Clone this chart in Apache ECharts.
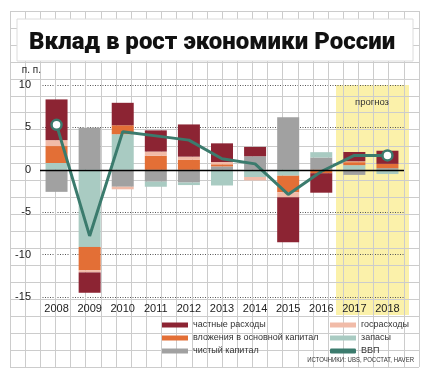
<!DOCTYPE html>
<html><head><meta charset="utf-8">
<script src="https://cdn.jsdelivr.net/npm/echarts@6/dist/echarts.min.js"></script>
<style>html,body{margin:0;padding:0;background:#fff}#c{width:431px;height:380px}</style>
</head><body><div id="c"></div>
<script>
const years = ['2008','2009','2010','2011','2012','2013','2014','2015','2016','2017','2018'];
const yTicks = [-15, -10, -5, 0, 5, 10];
const netCapital   = [-2.6, 4.95, -2.0, -1.4, -1.5, 0.4, 1.6, 6.2, 1.45, -0.6, 0.2];   // чистый капитал
const inventories  = [0.8, -9.1, 4.2, -0.6, -0.3, -1.85, -0.85, -0.7, 0.63, 0.55, -0.5]; // запасы
const fixedInvest  = [2.0, -2.75, 1.05, 1.65, 1.2, 0.25, 0, -1.95, -0.4, 0.35, 0.5];     // вложения в основной капитал
const govSpending  = [0.7, -0.25, -0.3, 0.5, 0.35, 0.27, -0.4, -0.6, 0, 0.1, 0];         // госрасходы
const privSpending = [4.8, -2.4, 2.65, 2.5, 3.8, 2.2, 1.1, -5.3, -2.3, 1.1, 1.55];       // частные расходы
const gdp          = [5.3, -7.8, 4.5, 4.0, 3.5, 1.3, 0.7, -2.9, -0.2, 1.7, 1.7];         // ВВП

const C = {red:'#8c2433', orange:'#e36f36', gray:'#a1a1a1', pink:'#f1bba8', teal:'#a9cbc2', line:'#3b7b6d'};
const chart = echarts.init(document.getElementById('c'), null, {renderer:'canvas'});
const FONT = 'Liberation Sans, Arial, sans-serif';

function barSeries(name, data, color, extra) {
  return Object.assign({
    name, type:'bar', stack:'total', data, barWidth:22,
    xAxisIndex:0, yAxisIndex:0,
    itemStyle:{color}, emphasis:{disabled:true}
  }, extra || {});
}

const last = gdp.length - 1;
const gdpData = gdp.map((v,i) => (i === 0 || i === last)
  ? {value:v, symbol:'circle', symbolSize:10, itemStyle:{color:'#fff', borderColor:C.line, borderWidth:2.5}}
  : {value:v, symbol:'none'});

chart.setOption({
  animation:false,
  backgroundColor:'#fff',
  title:{
    text:'Вклад в рост экономики России', left:24, top:26,
    textStyle:{fontFamily:'Roboto, sans-serif', fontWeight:900, fontSize:24, color:'#111'}
  },
  graphic:[
    {type:'rect', z:-10, shape:{x:336, y:85, width:73, height:230}, style:{fill:'#fbf1aa'}},
    {type:'rect', z:1, shape:{x:17, y:19, width:396, height:42}, style:{fill:'#fff', stroke:'#dcdcdc', lineWidth:1}},
    {type:'text', z:5, x:372, y:102, style:{text:'прогноз', align:'center', verticalAlign:'middle', font:'9.5px '+FONT, fill:'#333'}},
    {type:'text', z:5, x:414, y:360, scaleX:0.86, style:{text:'ИСТОЧНИКИ: UBS, РОССТАТ, HAVER', align:'right', verticalAlign:'middle', font:'7px '+FONT, fill:'#333'}}
  ],
  grid:[
    {left:40, right:27, top:85, bottom:83},
    {left:10, top:11, width:409, height:356, z:-5}
  ],
  xAxis:[
    {type:'category', gridIndex:0, data:years, axisLine:{show:false, onZero:false}, axisTick:{show:false},
     axisLabel:{margin:6, fontSize:11, color:'#222', fontFamily:FONT}},
    {type:'value', gridIndex:1, min:0, max:27, interval:1, axisLabel:{show:false}, axisTick:{show:false}, axisLine:{show:false},
     splitLine:{show:true, lineStyle:{color:'#cccccc', width:1}}}
  ],
  yAxis:[
    {type:'value', gridIndex:0, min:yTicks[0], max:yTicks[yTicks.length-1], interval:5,
     name:'п. п.', nameLocation:'end', nameGap:10,
     nameTextStyle:{fontSize:10, color:'#222', align:'right', padding:[0,-1,0,0], fontFamily:FONT},
     axisLine:{show:false}, axisTick:{show:false},
     axisLabel:{margin:9, fontSize:11, color:'#222', fontFamily:FONT},
     splitLine:{show:true, lineStyle:{color:'#555', type:[1,1.5], width:1}}},
    {type:'value', gridIndex:1, min:0, max:21, interval:1, axisLabel:{show:false}, axisTick:{show:false}, axisLine:{show:false},
     splitLine:{show:true, lineStyle:{color:'#cccccc', width:1}}}
  ],
  legend:[
    {left:157, top:314, orient:'vertical', itemWidth:26, itemHeight:5, itemGap:1, icon:'rect',
     textStyle:{fontSize:9, color:'#333', lineHeight:12, fontFamily:FONT},
     data:['частные расходы','вложения в основной капитал','чистый капитал']},
    {left:325, top:314, orient:'vertical', itemWidth:26, itemHeight:5, itemGap:1, icon:'rect',
     textStyle:{fontSize:9, color:'#333', lineHeight:12, fontFamily:FONT},
     data:['госрасходы','запасы',{name:'ВВП', icon:'roundRect', itemStyle:{color:C.line}}]}
  ],
  series:[
    {type:'line', xAxisIndex:1, yAxisIndex:1, data:[], silent:true},
    barSeries('чистый капитал', netCapital, C.gray),
    barSeries('запасы', inventories, C.teal),
    barSeries('вложения в основной капитал', fixedInvest, C.orange),
    barSeries('госрасходы', govSpending, C.pink),
    barSeries('частные расходы', privSpending, C.red, {
      markLine:{silent:true, symbol:'none', label:{show:false}, z:10,
        lineStyle:{color:'#000', type:'solid', width:1.3}, data:[{yAxis:0}]}
    }),
    {name:'ВВП', type:'line', xAxisIndex:0, yAxisIndex:0, data:gdpData, z:5,
     lineStyle:{color:C.line, width:3}, itemStyle:{color:C.line},
     emphasis:{disabled:true}}
  ]
});
</script></body></html>
